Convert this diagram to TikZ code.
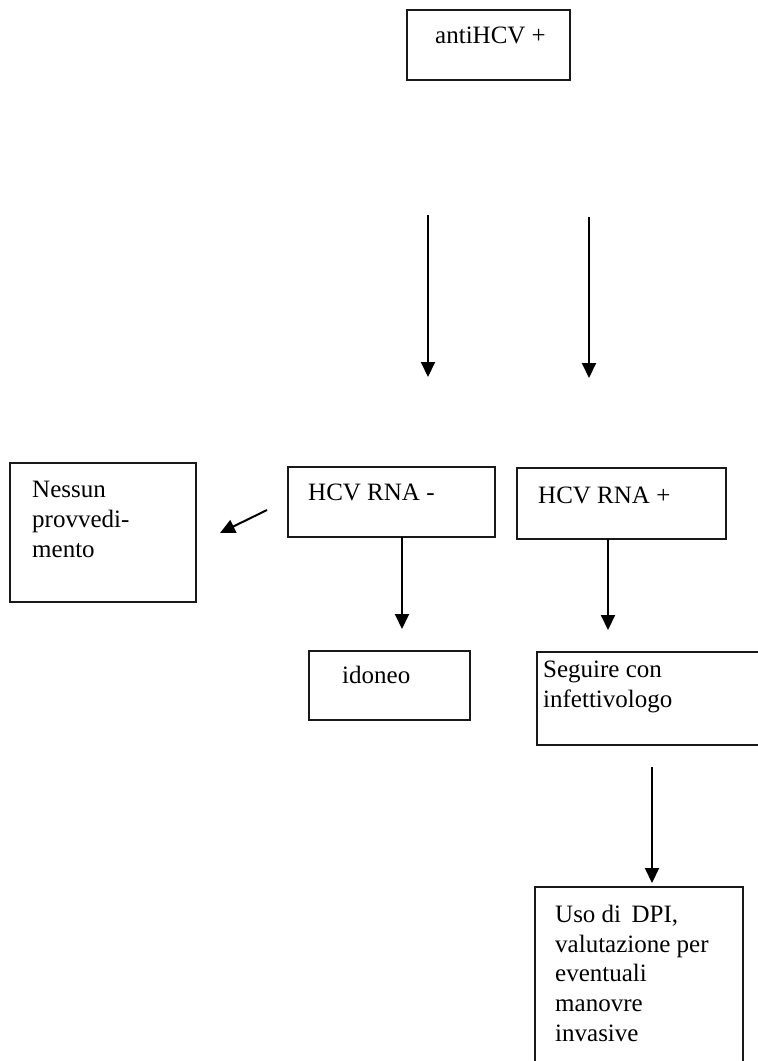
\documentclass[tikz,border=0pt]{standalone}
\usepackage{fontspec}
\setmainfont{Liberation Serif}
\usetikzlibrary{arrows.meta}
\begin{document}
\begin{tikzpicture}[x=1pt,y=-1pt,
  box/.style={draw=black!90,line width=2pt},
  txt/.style={anchor=base west,inner sep=0pt,align=left,font=\fontsize{25}{29.6}\selectfont},
  arr/.style={line width=2pt,-{Triangle[width=14pt,length=15pt]}}]
\useasboundingbox[fill=white] (0,0) rectangle (758,1061);
% boxes
\draw[box] (407,10) rectangle (570,80);
\draw[box] (10,463) rectangle (196,602);
\draw[box] (288,467) rectangle (495,537);
\draw[box] (517,468) rectangle (726,539);
\draw[box] (309,651) rectangle (470,720);
\draw[box] (537,652) rectangle (764,745);
\draw[box] (535,1068) -- (535,887) -- (743,887) -- (743,1068);
% texts (multi-line nodes: anchor is on the last line's baseline)
\node[txt] (anti) at (435,43) {antiHCV +};
\node[txt] (nessun) at (32,557) {Nessun\\provvedi-\\mento};
\node[txt] (neg) at (308,500) {HCV RNA -};
\node[txt] (pos) at (538,503) {HCV RNA +};
\node[txt] (idoneo) at (342,683) {idoneo};
\node[txt] (seguire) at (543,707) {Seguire con\\infettivologo};
\node[txt] (uso) at (555,1041) {Uso di\, DPI,\\valutazione per\\eventuali\\manovre\\invasive};
% arrow end points
\coordinate (a1s) at (428,215); \coordinate (a1e) at (428,377);
\coordinate (a2s) at (589,217); \coordinate (a2e) at (589,378);
\coordinate (ds) at (267,510);  \coordinate (de) at (220,533);
\coordinate (a3s) at (402,537); \coordinate (a3e) at (402,629);
\coordinate (a4s) at (608,539); \coordinate (a4e) at (608,630);
\coordinate (a5s) at (652,767); \coordinate (a5e) at (652,883);
\draw[arr] (a1s) -- (a1e);
\draw[arr] (a2s) -- (a2e);
\draw[arr] (ds) -- (de);
\draw[arr] (a3s) -- (a3e);
\draw[arr] (a4s) -- (a4e);
\draw[arr] (a5s) -- (a5e);
\end{tikzpicture}
\end{document}
